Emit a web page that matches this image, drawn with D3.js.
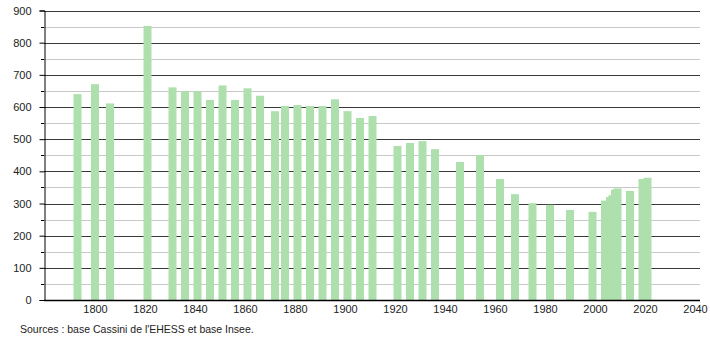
<!DOCTYPE html>
<html><head><meta charset="utf-8">
<script src="https://cdn.jsdelivr.net/npm/d3@7"></script>
<style>body{margin:0;background:#fff}svg text{font-family:"Liberation Sans",Arial,sans-serif}</style>
</head><body><svg id="c" width="710" height="340"></svg>
<script>
const years = [1793,1800,1806,1821,1831,1836,1841,1846,1851,1856,1861,1866,1872,1876,1881,1886,1891,1896,1901,1906,1911,1921,1926,1931,1936,1946,1954,1962,1968,1975,1982,1990,1999,2004,2006,2007,2008,2009,2014,2019,2021];
const population = [640,671,611,852,661,649,649,622,667,622,658,635,587,603,606,603,603,624,587,566,572,479,488,494,469,429,451,376,329,301,296,280,274,309,320,326,343,347,339,376,380];
const xTicks = [1800,1820,1840,1860,1880,1900,1920,1940,1960,1980,2000,2020,2040];
const yTicks = [0,100,200,300,400,500,600,700,800,900];
const yMinor = [50,150,250,350,450,550,650,750,850];
const sourceText = "Sources : base Cassini de l'EHESS et base Insee.";

const svg = d3.select("#c");
const x = d3.scaleLinear().domain([1780,2040]).range([45,695]);
const y = d3.scaleLinear().domain([0,900]).range([300,10.5]);
const left = 44, right = 700;

// minor grid
svg.append("g").selectAll("line").data(yMinor).join("line")
  .attr("x1",left).attr("x2",right).attr("y1",d=>Math.round(y(d))+0.5).attr("y2",d=>Math.round(y(d))+0.5)
  .attr("stroke","#c8c8c8").attr("stroke-width",1);
// major grid
svg.append("g").selectAll("line").data(yTicks.filter(d=>d>0)).join("line")
  .attr("x1",left).attr("x2",right).attr("y1",d=>Math.round(y(d))+0.5).attr("y2",d=>Math.round(y(d))+0.5)
  .attr("stroke","#3a3a3a").attr("stroke-width",1);

// bars
const bw = 8;
svg.append("g").selectAll("rect").data(years).join("rect")
  .attr("x",(d)=>x(d)-bw/2).attr("width",bw)
  .attr("y",(d,i)=>y(population[i])).attr("height",(d,i)=>y(0)-y(population[i]))
  .attr("fill","#ade0ad");

// y axis
const ya = svg.append("g").attr("transform",`translate(${left+0.5},0)`)
  .call(d3.axisLeft(y).tickValues(yTicks).tickSize(5).tickPadding(8).tickFormat(d3.format("d")));
ya.select(".domain").attr("stroke","#000");
ya.selectAll("text").attr("font-size","11px").attr("fill","#222");
ya.selectAll(".tick line").attr("stroke","#000");
svg.append("g").selectAll("line").data(yMinor).join("line")
  .attr("x1",left-3).attr("x2",left).attr("y1",d=>Math.round(y(d))+0.5).attr("y2",d=>Math.round(y(d))+0.5)
  .attr("stroke","#000");

// x axis
const xa = svg.append("g").attr("transform",`translate(0,${300.5})`)
  .call(d3.axisBottom(x).tickValues(xTicks).tickSize(0).tickPadding(5).tickFormat(d3.format("d")));
xa.select(".domain").attr("d",`M${left},0H${right}`).attr("stroke","#000").attr("stroke-width",1.5);
xa.selectAll("text").attr("font-size","11px").attr("fill","#222");

svg.append("text").attr("x",20).attr("y",333).attr("font-size","10.5px").attr("fill","#222").text(sourceText);
</script></body></html>
